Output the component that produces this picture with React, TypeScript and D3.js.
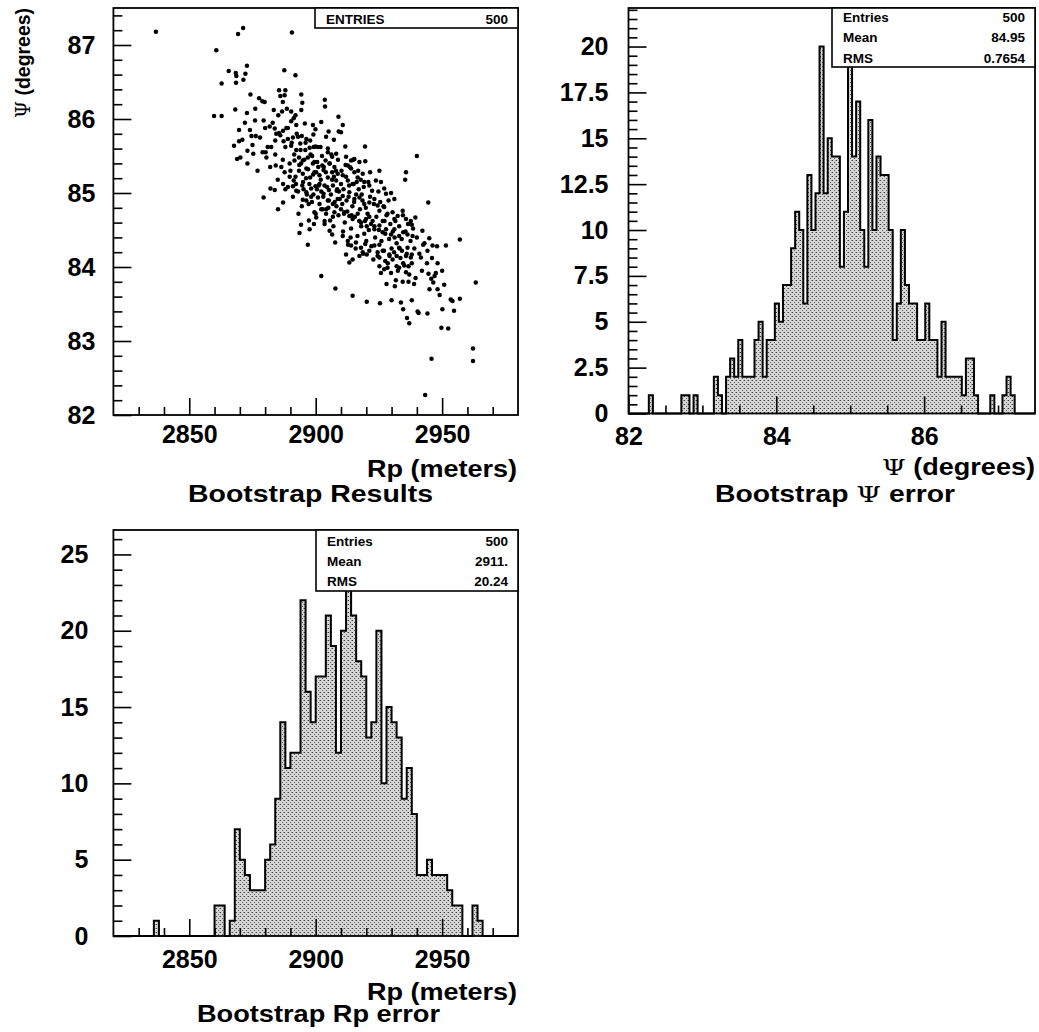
import React, { useEffect, useRef } from 'react';
import * as d3 from 'd3';

const W = 1039;
const H = 1032;
const FONT = "'Liberation Sans', Arial, Helvetica, sans-serif";
const GREEK = "'DejaVu Serif', 'Liberation Serif', serif";

// ---- Histogram of Rp: 80 bins of 2 m from 2820 to 2980 ----
const rpRange: [number, number] = [2820, 2980];
const rpBinWidth = 2;
const rpCounts = [
  0, 0, 0, 0, 0, 0, 0, 0, 1, 0,
  0, 0, 0, 0, 0, 0, 0, 0, 0, 0,
  2, 2, 0, 1, 7, 5, 4, 3, 3, 3,
  5, 6, 9, 14, 11, 12, 12, 22, 16, 14,
  17, 17, 21, 19, 12, 20, 24, 21, 18, 17,
  13, 14, 20, 10, 15, 14, 13, 9, 11, 8,
  4, 4, 5, 4, 4, 4, 3, 2, 2, 0,
  0, 2, 1, 0, 0, 0, 0, 0, 0, 0,
];

// ---- Histogram of Psi: 100 bins of 0.055 deg from 82 to 87.5 ----
const psiRange: [number, number] = [82, 87.5];
const psiBinWidth = 0.055;
const psiCounts = [
  0, 0, 0, 0, 0, 1, 0, 0, 0, 0,
  0, 0, 0, 1, 1, 0, 1, 0, 0, 0,
  0, 2, 1, 0, 2, 3, 2, 4, 2, 2,
  2, 4, 5, 2, 4, 4, 6, 5, 7, 7,
  9, 11, 10, 6, 13, 10, 12, 20, 12, 15,
  14, 14, 8, 11, 19, 14, 17, 10, 8, 16,
  10, 14, 13, 13, 10, 4, 6, 10, 7, 6,
  6, 4, 4, 6, 4, 4, 2, 5, 2, 2,
  2, 2, 1, 3, 3, 1, 0, 0, 0, 1,
  0, 0, 1, 2, 1, 0, 0, 0, 0, 0,
];

// ---- Bootstrap samples: [Rp (m), Psi (deg)] ----
const samples: [number, number][] = [
  [2836.8, 87.18], [2869.3, 87.15], [2871.3, 87.23], [2890.6, 87.17], [2860.7, 86.93], [2872.8, 86.72], [2865.6, 86.65], [2868.4, 86.62], [2868.6, 86.58], [2872.2, 86.61],
  [2887.6, 86.66], [2892.0, 86.59], [2862.8, 86.48], [2868.5, 86.49], [2871.4, 86.53], [2874.2, 86.33], [2885.5, 86.39], [2888.0, 86.39], [2886.0, 86.31], [2887.7, 86.32],
  [2887.0, 86.23], [2894.3, 86.33], [2894.7, 86.22], [2903.6, 86.26], [2903.7, 86.17], [2877.6, 86.28], [2878.9, 86.24], [2879.8, 86.23], [2859.8, 86.04], [2862.8, 86.04],
  [2868.2, 86.13], [2872.8, 86.08], [2876.1, 86.14], [2883.4, 86.12], [2885.2, 86.05], [2886.7, 86.10], [2888.6, 86.14], [2890.3, 86.10], [2892.0, 86.05], [2894.3, 86.12],
  [2891.3, 86.01], [2909.0, 86.03], [2869.7, 85.85], [2869.7, 85.70], [2867.7, 85.64], [2874.6, 85.77], [2876.3, 85.77], [2873.0, 85.57], [2875.3, 85.53], [2868.9, 85.46],
  [2870.2, 85.48], [2879.4, 85.98], [2881.8, 85.90], [2883.8, 85.87], [2884.4, 85.80], [2887.1, 85.84], [2888.4, 85.88], [2890.3, 85.97], [2892.3, 85.92], [2895.7, 85.94],
  [2898.9, 85.92], [2899.9, 85.86], [2899.1, 85.79], [2902.2, 85.96], [2905.1, 85.83], [2904.1, 85.76], [2907.2, 85.72], [2909.1, 85.83], [2880.5, 85.48], [2880.2, 85.55],
  [2882.4, 85.62], [2884.0, 85.71], [2885.5, 85.81], [2887.3, 85.70], [2889.0, 85.73], [2891.0, 85.75], [2893.0, 85.76], [2894.5, 85.77], [2896.3, 85.73], [2897.8, 85.71],
  [2888.0, 85.62], [2890.3, 85.64], [2892.3, 85.58], [2893.9, 85.67], [2895.9, 85.58], [2897.6, 85.61], [2899.9, 85.63], [2901.9, 85.62], [2904.8, 85.55], [2906.5, 85.49],
  [2908.1, 85.53], [2884.2, 85.37], [2886.4, 85.35], [2887.7, 85.28], [2889.7, 85.40], [2891.6, 85.44], [2893.4, 85.48], [2894.9, 85.44], [2896.9, 85.48], [2898.6, 85.50],
  [2898.9, 85.40], [2900.6, 85.42], [2902.6, 85.37], [2903.9, 85.44], [2905.5, 85.40], [2907.4, 85.35], [2908.7, 85.26], [2889.7, 85.22], [2891.3, 85.17], [2893.4, 85.30],
  [2894.9, 85.26], [2896.3, 85.33], [2897.8, 85.21], [2899.5, 85.28], [2901.5, 85.24], [2903.1, 85.31], [2904.8, 85.21], [2906.5, 85.28], [2908.1, 85.17], [2882.1, 85.06],
  [2883.8, 85.04], [2887.1, 85.12], [2889.0, 85.08], [2891.0, 85.09], [2892.3, 85.03], [2894.7, 85.10], [2896.3, 85.01], [2898.2, 85.06], [2899.9, 85.09], [2901.5, 85.12],
  [2903.5, 85.10], [2905.2, 85.04], [2906.8, 85.10], [2908.3, 85.03], [2879.4, 84.94], [2887.1, 84.87], [2885.1, 84.78], [2894.9, 84.91], [2896.3, 84.90], [2899.1, 84.98],
  [2900.9, 84.94], [2903.1, 84.99], [2904.8, 84.90], [2906.8, 84.85], [2908.7, 84.92], [2893.2, 84.72], [2897.3, 84.63], [2899.5, 84.74], [2900.2, 84.67], [2902.2, 84.78],
  [2904.1, 84.72], [2905.7, 84.63], [2907.4, 84.74], [2894.2, 84.57], [2893.6, 84.46], [2897.6, 84.51], [2899.3, 84.58], [2903.5, 84.58], [2905.5, 84.49], [2906.5, 84.44],
  [2896.9, 84.30], [2907.7, 84.33], [2902.2, 83.88], [2907.8, 83.71],

  [2910.7, 85.92], [2910.0, 85.82], [2911.7, 85.63], [2919.5, 85.63], [2940.0, 85.50],
  [2912.0, 85.49], [2914.0, 85.44], [2915.3, 85.46], [2917.3, 85.42], [2919.6, 85.43],
  [2921.5, 85.28], [2925.2, 85.30], [2935.7, 85.28], [2935.4, 85.18],
  [2912.7, 85.37], [2914.0, 85.33], [2915.3, 85.28], [2910.7, 85.24], [2912.7, 85.17], [2914.6, 85.12], [2916.6, 85.21], [2918.6, 85.26], [2919.2, 85.15],
  [2921.2, 85.10], [2922.3, 85.03], [2923.8, 85.17], [2925.8, 85.15], [2927.1, 85.06], [2927.8, 84.99], [2929.8, 85.00], [2931.1, 84.92],
  [2944.5, 84.87],
  [2910.7, 84.96], [2913.3, 85.01], [2915.3, 84.92], [2917.3, 84.94], [2919.2, 84.85], [2921.2, 84.87], [2923.2, 84.92], [2924.5, 84.83], [2925.2, 84.76],
  [2927.1, 84.81], [2928.4, 84.72], [2930.4, 84.74], [2931.1, 84.65], [2932.4, 84.69], [2934.4, 84.76], [2935.7, 84.65], [2937.6, 84.62], [2939.4, 84.67],
  [2910.0, 84.78], [2911.3, 84.74], [2913.3, 84.69], [2914.6, 84.65], [2916.6, 84.72], [2917.9, 84.60], [2919.9, 84.65], [2921.9, 84.58], [2923.2, 84.51],
  [2925.2, 84.56], [2926.5, 84.47], [2927.8, 84.51], [2929.8, 84.44], [2931.1, 84.51], [2933.0, 84.42], [2934.6, 84.47], [2936.3, 84.44], [2938.0, 84.57], [2938.3, 84.42],
  [2942.2, 84.49], [2944.9, 84.39], [2942.5, 84.30], [2944.2, 84.22], [2946.2, 84.29], [2951.5, 84.29], [2957.0, 84.37],
  [2910.7, 84.42], [2912.7, 84.35], [2914.0, 84.29], [2915.9, 84.33], [2917.9, 84.26], [2919.6, 84.31], [2921.2, 84.22], [2923.2, 84.29], [2924.5, 84.20], [2925.2, 84.13], [2926.5, 84.22],
  [2927.5, 84.08], [2929.1, 84.17], [2930.4, 84.10], [2932.0, 84.15], [2933.0, 84.26], [2934.1, 84.22], [2935.7, 84.15], [2937.6, 84.13], [2938.0, 84.17], [2936.3, 84.26], [2941.6, 84.13],
  [2912.0, 84.17], [2913.3, 84.06], [2914.6, 84.10], [2917.3, 84.15], [2918.6, 84.20], [2920.2, 84.17],
  [2925.2, 84.01], [2925.8, 83.92], [2927.1, 83.97], [2928.4, 83.99], [2929.8, 83.92], [2932.0, 84.01], [2933.0, 83.99], [2934.6, 84.05], [2936.7, 84.01], [2935.7, 83.93],
  [2948.2, 84.05], [2944.6, 83.91], [2947.5, 83.92], [2945.7, 83.84], [2946.5, 83.79], [2950.8, 83.76], [2948.2, 83.70], [2963.3, 83.79],
  [2928.0, 83.77], [2931.3, 83.74], [2931.7, 83.82], [2934.4, 83.80], [2936.7, 83.80], [2938.9, 83.77],
  [2914.6, 83.61], [2920.2, 83.53], [2925.4, 83.51], [2930.0, 83.55], [2933.7, 83.52], [2938.0, 83.55], [2934.6, 83.43], [2940.3, 83.40], [2940.7, 83.38], [2944.2, 83.37],
  [2950.1, 83.43], [2953.4, 83.56], [2954.1, 83.54], [2957.0, 83.57], [2954.7, 83.41],
  [2936.1, 83.31], [2937.0, 83.24], [2949.7, 83.18], [2952.4, 83.17],
  [2962.2, 82.90], [2962.2, 82.73], [2945.8, 82.76], [2943.3, 82.27],

  [2881, 85.62], [2882, 85.35], [2883, 85.95], [2884, 85.52], [2885, 85.18], [2886, 85.78], [2887, 85.45], [2888, 85.05], [2889, 85.88], [2890, 85.30],
  [2890.5, 85.68], [2891, 84.95], [2891.5, 85.52], [2892, 85.22], [2892.5, 85.80], [2893, 85.02], [2893.5, 85.38], [2894, 85.58], [2894.5, 84.82], [2895, 85.15],
  [2895.5, 85.45], [2896, 85.68], [2896.5, 84.98], [2897, 85.32], [2897.5, 85.12], [2898, 85.52], [2898.5, 84.88], [2899, 85.25], [2899.5, 85.42], [2900, 84.72],
  [2900.5, 85.05], [2901, 85.35], [2901.5, 84.85], [2902, 85.18], [2902.5, 85.50], [2903, 84.95], [2903.5, 84.62], [2904, 85.28], [2904.5, 85.08], [2905, 84.80],
  [2905.5, 85.40], [2906, 84.98], [2906.5, 85.18], [2907, 84.55], [2907.5, 84.88], [2908, 85.30], [2908.5, 85.05], [2909, 84.70], [2909.5, 84.92], [2910, 85.12],
  [2900.8, 85.62], [2902.8, 84.78], [2904.8, 85.60], [2906.8, 84.68], [2908.8, 85.45],
  [2910.5, 84.85], [2911, 85.05], [2911.5, 84.60], [2912, 85.22], [2912.5, 84.75], [2913, 84.95], [2913.5, 85.35], [2914, 84.52], [2914.5, 84.82], [2915, 85.12],
  [2915.5, 84.68], [2916, 84.98], [2916.5, 84.42], [2917, 85.05], [2917.5, 84.78], [2918, 84.55], [2918.5, 84.90], [2919, 85.08], [2919.5, 84.62], [2920, 84.35],
  [2910.8, 84.48], [2912.8, 84.30], [2914.8, 85.45], [2916.8, 85.30], [2918.8, 84.18], [2911.8, 85.38], [2913.8, 84.40], [2915.8, 84.25], [2917.8, 85.18], [2919.8, 84.80],
  [2920.5, 84.72], [2921, 84.50], [2921.5, 84.95], [2922, 84.28], [2922.5, 84.62], [2923, 84.85], [2923.5, 84.40], [2924, 84.68], [2924.5, 84.15], [2925, 84.50],
  [2925.5, 84.88], [2926, 84.35], [2926.5, 84.62], [2927, 84.22], [2927.5, 84.45], [2928, 84.70], [2928.5, 84.05], [2929, 84.38], [2929.5, 84.58], [2930, 84.25],
  [2920.8, 85.15], [2922.8, 84.10], [2924.8, 85.02], [2926.8, 84.82], [2928.8, 84.90],
  [2930.5, 84.48], [2931, 84.20], [2931.5, 84.62], [2932, 84.32], [2932.5, 83.95], [2933, 84.55], [2933.5, 84.12], [2934, 84.38], [2934.5, 84.70], [2935, 84.02],
  [2935.5, 84.48], [2936, 84.18], [2936.5, 84.58], [2937, 83.90], [2937.5, 84.35], [2938, 84.05], [2938.5, 84.52], [2939, 84.25], [2939.5, 83.85], [2940, 84.40],
  [2941, 84.18], [2942, 83.95], [2943, 84.32], [2944, 84.05], [2945, 83.70], [2946, 84.12], [2947, 83.88], [2948, 84.28], [2949, 83.62], [2950, 83.95],
  [2871, 85.72], [2872, 85.95], [2873, 85.40], [2874, 85.85], [2875, 85.65], [2876, 85.98], [2877, 85.30], [2878, 85.75], [2879, 85.55], [2880, 85.88],
  [2895.2, 85.05], [2897.2, 84.85], [2899.2, 85.62], [2901.2, 85.10], [2903.2, 85.35], [2905.2, 84.90], [2907.2, 85.22], [2909.2, 85.02], [2911.2, 84.72], [2913.2, 85.10],
  [2915.2, 84.88], [2917.2, 84.62], [2919.2, 84.45], [2921.2, 84.68], [2923.2, 84.55], [2925.2, 84.30], [2927.2, 84.62], [2929.2, 84.15], [2931.2, 84.40], [2933.2, 84.25],
  [2892.2, 85.12], [2894.2, 85.40], [2896.2, 85.20], [2898.2, 84.95], [2900.2, 85.28], [2902.2, 85.02], [2904.2, 84.78], [2906.2, 85.52], [2908.2, 84.82], [2910.2, 85.30],
  [2912.2, 84.90], [2914.2, 84.70], [2916.2, 85.15], [2918.2, 84.98], [2920.2, 84.55],
];

// ---- Axis ticks ----
const rpMajorTicks = [2850, 2900, 2950];
const rpMinorTicks = [2830, 2840, 2860, 2870, 2880, 2890, 2910, 2920, 2930, 2940, 2960, 2970];
const psiMajorTicks = [82, 83, 84, 85, 86, 87];
const psiHistMajorTicks = [82, 84, 86];
const psiHistMinorTicks = [82.5, 83, 83.5, 84.5, 85, 85.5, 86.5, 87];
const psiCountTicks = [0, 2.5, 5, 7.5, 10, 12.5, 15, 17.5, 20];
const rpCountTicks = [0, 5, 10, 15, 20, 25];

// ---- Statistics boxes ----
const scatterStats = [['ENTRIES', '500']];
const psiStats = [['Entries', '500'], ['Mean', '84.95'], ['RMS', '0.7654']];
const rpStats = [['Entries', '500'], ['Mean', '2911.'], ['RMS', '20.24']];

type Frame = { x0: number; x1: number; y0: number; y1: number };
const scatterFrame: Frame = { x0: 113.4, x1: 518, y0: 8, y1: 415 };
const psiFrame: Frame = { x0: 628.5, x1: 1035, y0: 8, y1: 413.5 };
const rpFrame: Frame = { x0: 113.4, x1: 518, y0: 530, y1: 936 };

function minorRange(lo: number, hi: number, step: number, skipEvery: number) {
  const out: number[] = [];
  const n = Math.round((hi - lo) / step);
  for (let i = 0; i <= n; i++) {
    const v = +(lo + i * step).toFixed(4);
    if (Math.abs(v / skipEvery - Math.round(v / skipEvery)) > 1e-6) out.push(v);
  }
  return out;
}

function styleAxis(g: d3.Selection<SVGGElement, unknown, null, undefined>, fontSize: number) {
  g.select('.domain').remove();
  g.selectAll('line').attr('stroke', '#000').attr('stroke-width', 1.6);
  g.selectAll('text')
    .attr('fill', '#000')
    .style('font-family', FONT)
    .style('font-weight', 'bold')
    .style('font-size', `${fontSize}px`);
}

export default function App() {
  const ref = useRef<SVGSVGElement>(null);

  useEffect(() => {
    const svg = d3.select(ref.current);
    svg.selectAll('*').remove();

    const defs = svg.append('defs');
    const pat = defs
      .append('pattern')
      .attr('id', 'stipple')
      .attr('patternUnits', 'userSpaceOnUse')
      .attr('width', 4)
      .attr('height', 4);
    pat.append('rect').attr('width', 4).attr('height', 4).attr('fill', '#d6d6d6');
    pat.append('rect').attr('x', 0).attr('y', 0).attr('width', 1).attr('height', 1).attr('fill', '#3a3a3a');
    pat.append('rect').attr('x', 2).attr('y', 2).attr('width', 1).attr('height', 1).attr('fill', '#5a5a5a');
    pat.append('rect').attr('x', 3).attr('y', 0).attr('width', 1).attr('height', 1).attr('fill', '#9a9a9a');

    svg.append('rect').attr('width', W).attr('height', H).attr('fill', '#fff');

    // --------- generic axis drawing ---------
    function axes(
      f: Frame,
      x: d3.ScaleLinear<number, number>,
      y: d3.ScaleLinear<number, number>,
      o: {
        xMajor: number[]; xMinor: number[]; yMajor: number[]; yMinor: number[];
        xFormat: (d: number) => string; yFormat: (d: number) => string;
        xPad: number; yPad: number;
      }
    ) {
      const gxMinor = svg.append('g').attr('transform', `translate(0,${f.y1})`);
      gxMinor.call(d3.axisBottom(x).tickValues(o.xMinor).tickSize(-8).tickFormat(() => ''));
      styleAxis(gxMinor, 24);
      const gx = svg.append('g').attr('transform', `translate(0,${f.y1})`);
      gx.call(d3.axisBottom(x).tickValues(o.xMajor).tickSize(-17).tickPadding(o.xPad).tickFormat((d) => o.xFormat(d as number)));
      styleAxis(gx, 25);

      const gyMinor = svg.append('g').attr('transform', `translate(${f.x0},0)`);
      gyMinor.call(d3.axisLeft(y).tickValues(o.yMinor).tickSize(-9).tickFormat(() => ''));
      styleAxis(gyMinor, 24);
      const gy = svg.append('g').attr('transform', `translate(${f.x0},0)`);
      gy.call(d3.axisLeft(y).tickValues(o.yMajor).tickSize(-18).tickPadding(o.yPad).tickFormat((d) => o.yFormat(d as number)));
      styleAxis(gy, 25);
    }

    function frameRect(f: Frame) {
      svg
        .append('rect')
        .attr('x', f.x0)
        .attr('y', f.y0)
        .attr('width', f.x1 - f.x0)
        .attr('height', f.y1 - f.y0)
        .attr('fill', 'none')
        .attr('stroke', '#000')
        .attr('stroke-width', 1.8);
    }

    function statsBox(f: Frame, left: number, bottom: number, rows: string[][], rowH: number, first: number) {
      svg
        .append('rect')
        .attr('x', left)
        .attr('y', f.y0)
        .attr('width', f.x1 - left)
        .attr('height', bottom - f.y0)
        .attr('fill', '#fff')
        .attr('stroke', '#000')
        .attr('stroke-width', 1.6);
      rows.forEach((r, i) => {
        const yb = f.y0 + first + i * rowH;
        svg.append('text').attr('x', left + 11).attr('y', yb).text(r[0])
          .style('font-family', FONT).style('font-weight', 'bold').style('font-size', '13.5px');
        svg.append('text').attr('x', f.x1 - 10).attr('y', yb).attr('text-anchor', 'end').text(r[1])
          .style('font-family', FONT).style('font-weight', 'bold').style('font-size', '13.5px');
      });
    }

    function label(x: number, y: number, parts: [string, boolean][], size: number, anchor: string, len?: number, rotate?: boolean) {
      const t = svg
        .append('text')
        .attr('x', rotate ? 0 : x)
        .attr('y', rotate ? 0 : y)
        .attr('text-anchor', anchor)
        .style('font-family', FONT)
        .style('font-weight', 'bold')
        .style('font-size', `${size}px`);
      if (rotate) t.attr('transform', `translate(${x},${y}) rotate(-90)`);
      if (len) t.attr('textLength', len).attr('lengthAdjust', 'spacingAndGlyphs');
      parts.forEach(([s, greek]) => {
        const ts = t.append('tspan').text(s);
        if (greek) ts.style('font-family', GREEK).style('font-weight', 'normal');
      });
    }

    // --------- Pad 1: scatter Psi vs Rp ---------
    {
      const f = scatterFrame;
      const x = d3.scaleLinear().domain(rpRange).range([f.x0, f.x1]);
      const y = d3.scaleLinear().domain(psiRange).range([f.y1, f.y0]);
      svg
        .append('g')
        .selectAll('circle')
        .data(samples)
        .join('circle')
        .attr('cx', (d) => x(d[0]))
        .attr('cy', (d) => y(d[1]))
        .attr('r', 2.25)
        .attr('fill', '#000');
      axes(f, x, y, {
        xMajor: rpMajorTicks, xMinor: rpMinorTicks,
        yMajor: psiMajorTicks, yMinor: minorRange(82, 87.4, 0.2, 1),
        xFormat: (d) => String(d), yFormat: (d) => String(d),
        xPad: 10, yPad: 18,
      });
      frameRect(f);
      statsBox(f, 315, 28, scatterStats, 0, 15.5);
      label(517, 477, [['Rp (meters)', false]], 23, 'end', 150);
      label(188, 502, [['Bootstrap Results', false]], 23, 'start', 245);
      label(30, 8, [['Ψ', true], [' (degrees)', false]], 21, 'end', 110, true);
    }

    // --------- Pad 2: Psi histogram ---------
    {
      const f = psiFrame;
      const x = d3.scaleLinear().domain(psiRange).range([f.x0, f.x1]);
      const y = d3.scaleLinear().domain([0, 22.1]).range([f.y1, f.y0]);
      const pts = psiCounts.map((c, i) => [psiRange[0] + i * psiBinWidth, c] as [number, number]);
      pts.push([psiRange[0] + psiCounts.length * psiBinWidth, psiCounts[psiCounts.length - 1]]);
      const area = d3.area<[number, number]>().x((d) => x(d[0])).y0(y(0)).y1((d) => y(d[1])).curve(d3.curveStepAfter);
      const line = d3.line<[number, number]>().x((d) => x(d[0])).y((d) => y(d[1])).curve(d3.curveStepAfter);
      svg.append('path').attr('d', area(pts)!).attr('fill', 'url(#stipple)');
      svg.append('path').attr('d', line(pts)!).attr('fill', 'none').attr('stroke', '#000').attr('stroke-width', 2);
      axes(f, x, y, {
        xMajor: psiHistMajorTicks, xMinor: psiHistMinorTicks,
        yMajor: psiCountTicks, yMinor: minorRange(0, 22, 0.5, 2.5),
        xFormat: (d) => String(d), yFormat: (d) => String(d),
        xPad: 14, yPad: 20,
      });
      frameRect(f);
      statsBox(f, 832, 67, psiStats, 20.5, 13.5);
      label(1035, 475, [['Ψ', true], [' (degrees)', false]], 23, 'end', 153);
      label(715, 502, [['Bootstrap ', false], ['Ψ', true], [' error', false]], 23, 'start', 240);
    }

    // --------- Pad 3: Rp histogram ---------
    {
      const f = rpFrame;
      const x = d3.scaleLinear().domain(rpRange).range([f.x0, f.x1]);
      const y = d3.scaleLinear().domain([0, 26.6]).range([f.y1, f.y0]);
      const pts = rpCounts.map((c, i) => [rpRange[0] + i * rpBinWidth, c] as [number, number]);
      pts.push([rpRange[0] + rpCounts.length * rpBinWidth, rpCounts[rpCounts.length - 1]]);
      const area = d3.area<[number, number]>().x((d) => x(d[0])).y0(y(0)).y1((d) => y(d[1])).curve(d3.curveStepAfter);
      const line = d3.line<[number, number]>().x((d) => x(d[0])).y((d) => y(d[1])).curve(d3.curveStepAfter);
      svg.append('path').attr('d', area(pts)!).attr('fill', 'url(#stipple)');
      svg.append('path').attr('d', line(pts)!).attr('fill', 'none').attr('stroke', '#000').attr('stroke-width', 2);
      axes(f, x, y, {
        xMajor: rpMajorTicks, xMinor: rpMinorTicks,
        yMajor: rpCountTicks, yMinor: minorRange(0, 26, 1, 5),
        xFormat: (d) => String(d), yFormat: (d) => String(d),
        xPad: 14, yPad: 25,
      });
      frameRect(f);
      statsBox(f, 316, 591, rpStats, 20, 16);
      label(517, 1000, [['Rp (meters)', false]], 23, 'end', 150);
      label(197, 1022, [['Bootstrap Rp error', false]], 23, 'start', 243);
    }
  }, []);

  return (
    <svg
      ref={ref}
      width={W}
      height={H}
      style={{ position: 'absolute', left: 0, top: 0, display: 'block' }}
    />
  );
}
